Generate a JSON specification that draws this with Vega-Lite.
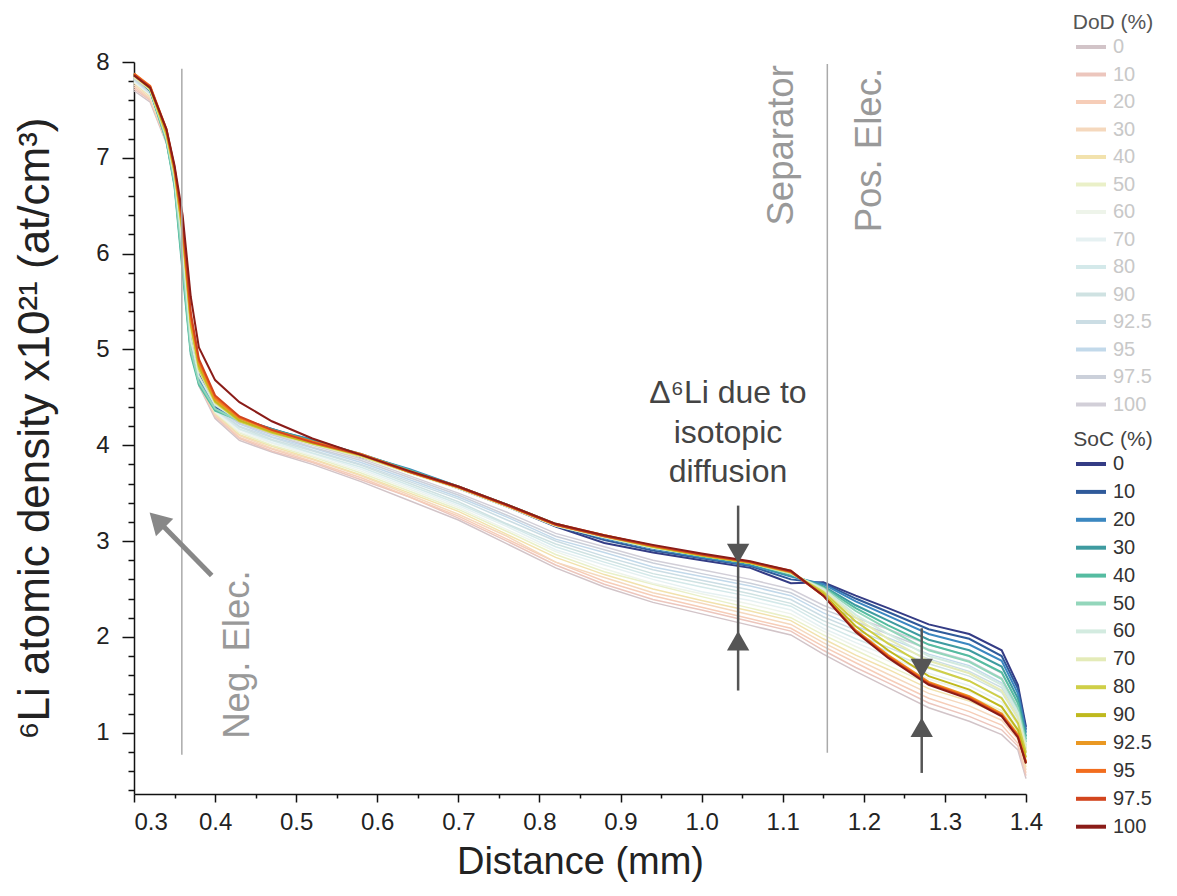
{
"$schema":"https://vega.github.io/schema/vega-lite/v6.json",
"width":892,"height":732,
"autosize":{"type":"none"},
"padding":{"left":134,"top":62,"right":151,"bottom":102},
"background":"white",
"config":{"view":{"stroke":null},"font":"Liberation Sans"},
"datasets":{
"soc":[
{"x":0.3,"y":7.86,"c":"0"},{"x":0.32,"y":7.70,"c":"0"},{"x":0.34,"y":7.22,"c":"0"},{"x":0.35,"y":6.80,"c":"0"},{"x":0.36,"y":6.10,"c":"0"},{"x":0.37,"y":5.15,"c":"0"},{"x":0.38,"y":4.75,"c":"0"},{"x":0.4,"y":4.42,"c":"0"},{"x":0.43,"y":4.28,"c":"0"},{"x":0.47,"y":4.17,"c":"0"},{"x":0.52,"y":4.04,"c":"0"},{"x":0.58,"y":3.88,"c":"0"},{"x":0.64,"y":3.73,"c":"0"},{"x":0.7,"y":3.55,"c":"0"},{"x":0.76,"y":3.36,"c":"0"},{"x":0.82,"y":3.15,"c":"0"},{"x":0.88,"y":2.98,"c":"0"},{"x":0.94,"y":2.88,"c":"0"},{"x":1.0,"y":2.80,"c":"0"},{"x":1.06,"y":2.72,"c":"0"},{"x":1.11,"y":2.56,"c":"0"},{"x":1.15,"y":2.57,"c":"0"},{"x":1.19,"y":2.43,"c":"0"},{"x":1.23,"y":2.30,"c":"0"},{"x":1.28,"y":2.13,"c":"0"},{"x":1.33,"y":2.03,"c":"0"},{"x":1.37,"y":1.86,"c":"0"},{"x":1.39,"y":1.50,"c":"0"},{"x":1.4,"y":1.06,"c":"0"},
{"x":0.3,"y":7.87,"c":"10"},{"x":0.32,"y":7.71,"c":"10"},{"x":0.34,"y":7.23,"c":"10"},{"x":0.35,"y":6.82,"c":"10"},{"x":0.36,"y":6.05,"c":"10"},{"x":0.37,"y":5.10,"c":"10"},{"x":0.38,"y":4.72,"c":"10"},{"x":0.4,"y":4.40,"c":"10"},{"x":0.43,"y":4.27,"c":"10"},{"x":0.47,"y":4.16,"c":"10"},{"x":0.52,"y":4.05,"c":"10"},{"x":0.58,"y":3.89,"c":"10"},{"x":0.64,"y":3.74,"c":"10"},{"x":0.7,"y":3.56,"c":"10"},{"x":0.76,"y":3.37,"c":"10"},{"x":0.82,"y":3.16,"c":"10"},{"x":0.88,"y":3.01,"c":"10"},{"x":0.94,"y":2.90,"c":"10"},{"x":1.0,"y":2.82,"c":"10"},{"x":1.06,"y":2.74,"c":"10"},{"x":1.11,"y":2.60,"c":"10"},{"x":1.15,"y":2.56,"c":"10"},{"x":1.19,"y":2.40,"c":"10"},{"x":1.23,"y":2.26,"c":"10"},{"x":1.28,"y":2.08,"c":"10"},{"x":1.33,"y":1.98,"c":"10"},{"x":1.37,"y":1.80,"c":"10"},{"x":1.39,"y":1.46,"c":"10"},{"x":1.4,"y":1.03,"c":"10"},
{"x":0.3,"y":7.88,"c":"20"},{"x":0.32,"y":7.72,"c":"20"},{"x":0.34,"y":7.20,"c":"20"},{"x":0.35,"y":6.78,"c":"20"},{"x":0.36,"y":5.95,"c":"20"},{"x":0.37,"y":5.02,"c":"20"},{"x":0.38,"y":4.68,"c":"20"},{"x":0.4,"y":4.38,"c":"20"},{"x":0.43,"y":4.26,"c":"20"},{"x":0.47,"y":4.16,"c":"20"},{"x":0.52,"y":4.06,"c":"20"},{"x":0.58,"y":3.90,"c":"20"},{"x":0.64,"y":3.75,"c":"20"},{"x":0.7,"y":3.57,"c":"20"},{"x":0.76,"y":3.38,"c":"20"},{"x":0.82,"y":3.17,"c":"20"},{"x":0.88,"y":3.03,"c":"20"},{"x":0.94,"y":2.92,"c":"20"},{"x":1.0,"y":2.83,"c":"20"},{"x":1.06,"y":2.75,"c":"20"},{"x":1.11,"y":2.63,"c":"20"},{"x":1.15,"y":2.55,"c":"20"},{"x":1.19,"y":2.37,"c":"20"},{"x":1.23,"y":2.22,"c":"20"},{"x":1.28,"y":2.03,"c":"20"},{"x":1.33,"y":1.92,"c":"20"},{"x":1.37,"y":1.75,"c":"20"},{"x":1.39,"y":1.41,"c":"20"},{"x":1.4,"y":1.00,"c":"20"},
{"x":0.3,"y":7.88,"c":"30"},{"x":0.32,"y":7.70,"c":"30"},{"x":0.34,"y":7.18,"c":"30"},{"x":0.35,"y":6.72,"c":"30"},{"x":0.36,"y":5.85,"c":"30"},{"x":0.37,"y":4.98,"c":"30"},{"x":0.38,"y":4.65,"c":"30"},{"x":0.4,"y":4.37,"c":"30"},{"x":0.43,"y":4.27,"c":"30"},{"x":0.47,"y":4.17,"c":"30"},{"x":0.52,"y":4.05,"c":"30"},{"x":0.58,"y":3.91,"c":"30"},{"x":0.64,"y":3.74,"c":"30"},{"x":0.7,"y":3.57,"c":"30"},{"x":0.76,"y":3.38,"c":"30"},{"x":0.82,"y":3.18,"c":"30"},{"x":0.88,"y":3.04,"c":"30"},{"x":0.94,"y":2.93,"c":"30"},{"x":1.0,"y":2.84,"c":"30"},{"x":1.06,"y":2.76,"c":"30"},{"x":1.11,"y":2.64,"c":"30"},{"x":1.15,"y":2.53,"c":"30"},{"x":1.19,"y":2.33,"c":"30"},{"x":1.23,"y":2.17,"c":"30"},{"x":1.28,"y":1.97,"c":"30"},{"x":1.33,"y":1.86,"c":"30"},{"x":1.37,"y":1.69,"c":"30"},{"x":1.39,"y":1.36,"c":"30"},{"x":1.4,"y":0.96,"c":"30"},
{"x":0.3,"y":7.87,"c":"40"},{"x":0.32,"y":7.70,"c":"40"},{"x":0.34,"y":7.17,"c":"40"},{"x":0.35,"y":6.70,"c":"40"},{"x":0.36,"y":5.80,"c":"40"},{"x":0.37,"y":4.95,"c":"40"},{"x":0.38,"y":4.63,"c":"40"},{"x":0.4,"y":4.36,"c":"40"},{"x":0.43,"y":4.26,"c":"40"},{"x":0.47,"y":4.16,"c":"40"},{"x":0.52,"y":4.04,"c":"40"},{"x":0.58,"y":3.90,"c":"40"},{"x":0.64,"y":3.74,"c":"40"},{"x":0.7,"y":3.56,"c":"40"},{"x":0.76,"y":3.38,"c":"40"},{"x":0.82,"y":3.18,"c":"40"},{"x":0.88,"y":3.05,"c":"40"},{"x":0.94,"y":2.94,"c":"40"},{"x":1.0,"y":2.84,"c":"40"},{"x":1.06,"y":2.77,"c":"40"},{"x":1.11,"y":2.65,"c":"40"},{"x":1.15,"y":2.52,"c":"40"},{"x":1.19,"y":2.30,"c":"40"},{"x":1.23,"y":2.12,"c":"40"},{"x":1.28,"y":1.92,"c":"40"},{"x":1.33,"y":1.80,"c":"40"},{"x":1.37,"y":1.63,"c":"40"},{"x":1.39,"y":1.31,"c":"40"},{"x":1.4,"y":0.93,"c":"40"},
{"x":0.3,"y":7.86,"c":"50"},{"x":0.32,"y":7.71,"c":"50"},{"x":0.34,"y":7.19,"c":"50"},{"x":0.35,"y":6.74,"c":"50"},{"x":0.36,"y":5.90,"c":"50"},{"x":0.37,"y":5.00,"c":"50"},{"x":0.38,"y":4.66,"c":"50"},{"x":0.4,"y":4.38,"c":"50"},{"x":0.43,"y":4.25,"c":"50"},{"x":0.47,"y":4.15,"c":"50"},{"x":0.52,"y":4.03,"c":"50"},{"x":0.58,"y":3.89,"c":"50"},{"x":0.64,"y":3.73,"c":"50"},{"x":0.7,"y":3.56,"c":"50"},{"x":0.76,"y":3.37,"c":"50"},{"x":0.82,"y":3.17,"c":"50"},{"x":0.88,"y":3.05,"c":"50"},{"x":0.94,"y":2.94,"c":"50"},{"x":1.0,"y":2.85,"c":"50"},{"x":1.06,"y":2.77,"c":"50"},{"x":1.11,"y":2.66,"c":"50"},{"x":1.15,"y":2.51,"c":"50"},{"x":1.19,"y":2.27,"c":"50"},{"x":1.23,"y":2.08,"c":"50"},{"x":1.28,"y":1.86,"c":"50"},{"x":1.33,"y":1.74,"c":"50"},{"x":1.37,"y":1.56,"c":"50"},{"x":1.39,"y":1.26,"c":"50"},{"x":1.4,"y":0.90,"c":"50"},
{"x":0.3,"y":7.85,"c":"60"},{"x":0.32,"y":7.72,"c":"60"},{"x":0.34,"y":7.22,"c":"60"},{"x":0.35,"y":6.80,"c":"60"},{"x":0.36,"y":6.05,"c":"60"},{"x":0.37,"y":5.10,"c":"60"},{"x":0.38,"y":4.72,"c":"60"},{"x":0.4,"y":4.42,"c":"60"},{"x":0.43,"y":4.26,"c":"60"},{"x":0.47,"y":4.14,"c":"60"},{"x":0.52,"y":4.02,"c":"60"},{"x":0.58,"y":3.89,"c":"60"},{"x":0.64,"y":3.72,"c":"60"},{"x":0.7,"y":3.55,"c":"60"},{"x":0.76,"y":3.36,"c":"60"},{"x":0.82,"y":3.16,"c":"60"},{"x":0.88,"y":3.04,"c":"60"},{"x":0.94,"y":2.93,"c":"60"},{"x":1.0,"y":2.85,"c":"60"},{"x":1.06,"y":2.77,"c":"60"},{"x":1.11,"y":2.66,"c":"60"},{"x":1.15,"y":2.50,"c":"60"},{"x":1.19,"y":2.23,"c":"60"},{"x":1.23,"y":2.03,"c":"60"},{"x":1.28,"y":1.80,"c":"60"},{"x":1.33,"y":1.68,"c":"60"},{"x":1.37,"y":1.50,"c":"60"},{"x":1.39,"y":1.21,"c":"60"},{"x":1.4,"y":0.86,"c":"60"},
{"x":0.3,"y":7.84,"c":"70"},{"x":0.32,"y":7.71,"c":"70"},{"x":0.34,"y":7.23,"c":"70"},{"x":0.35,"y":6.82,"c":"70"},{"x":0.36,"y":6.15,"c":"70"},{"x":0.37,"y":5.20,"c":"70"},{"x":0.38,"y":4.78,"c":"70"},{"x":0.4,"y":4.44,"c":"70"},{"x":0.43,"y":4.26,"c":"70"},{"x":0.47,"y":4.13,"c":"70"},{"x":0.52,"y":4.01,"c":"70"},{"x":0.58,"y":3.88,"c":"70"},{"x":0.64,"y":3.71,"c":"70"},{"x":0.7,"y":3.55,"c":"70"},{"x":0.76,"y":3.36,"c":"70"},{"x":0.82,"y":3.16,"c":"70"},{"x":0.88,"y":3.04,"c":"70"},{"x":0.94,"y":2.93,"c":"70"},{"x":1.0,"y":2.85,"c":"70"},{"x":1.06,"y":2.77,"c":"70"},{"x":1.11,"y":2.67,"c":"70"},{"x":1.15,"y":2.48,"c":"70"},{"x":1.19,"y":2.20,"c":"70"},{"x":1.23,"y":1.98,"c":"70"},{"x":1.28,"y":1.75,"c":"70"},{"x":1.33,"y":1.62,"c":"70"},{"x":1.37,"y":1.44,"c":"70"},{"x":1.39,"y":1.16,"c":"70"},{"x":1.4,"y":0.83,"c":"70"},
{"x":0.3,"y":7.86,"c":"80"},{"x":0.32,"y":7.72,"c":"80"},{"x":0.34,"y":7.24,"c":"80"},{"x":0.35,"y":6.84,"c":"80"},{"x":0.36,"y":6.20,"c":"80"},{"x":0.37,"y":5.25,"c":"80"},{"x":0.38,"y":4.80,"c":"80"},{"x":0.4,"y":4.45,"c":"80"},{"x":0.43,"y":4.25,"c":"80"},{"x":0.47,"y":4.13,"c":"80"},{"x":0.52,"y":4.02,"c":"80"},{"x":0.58,"y":3.89,"c":"80"},{"x":0.64,"y":3.72,"c":"80"},{"x":0.7,"y":3.56,"c":"80"},{"x":0.76,"y":3.37,"c":"80"},{"x":0.82,"y":3.17,"c":"80"},{"x":0.88,"y":3.05,"c":"80"},{"x":0.94,"y":2.94,"c":"80"},{"x":1.0,"y":2.85,"c":"80"},{"x":1.06,"y":2.77,"c":"80"},{"x":1.11,"y":2.67,"c":"80"},{"x":1.15,"y":2.47,"c":"80"},{"x":1.19,"y":2.16,"c":"80"},{"x":1.23,"y":1.93,"c":"80"},{"x":1.28,"y":1.68,"c":"80"},{"x":1.33,"y":1.54,"c":"80"},{"x":1.37,"y":1.36,"c":"80"},{"x":1.39,"y":1.10,"c":"80"},{"x":1.4,"y":0.79,"c":"80"},
{"x":0.3,"y":7.87,"c":"90"},{"x":0.32,"y":7.73,"c":"90"},{"x":0.34,"y":7.26,"c":"90"},{"x":0.35,"y":6.86,"c":"90"},{"x":0.36,"y":6.22,"c":"90"},{"x":0.37,"y":5.28,"c":"90"},{"x":0.38,"y":4.83,"c":"90"},{"x":0.4,"y":4.46,"c":"90"},{"x":0.43,"y":4.26,"c":"90"},{"x":0.47,"y":4.14,"c":"90"},{"x":0.52,"y":4.02,"c":"90"},{"x":0.58,"y":3.90,"c":"90"},{"x":0.64,"y":3.72,"c":"90"},{"x":0.7,"y":3.56,"c":"90"},{"x":0.76,"y":3.37,"c":"90"},{"x":0.82,"y":3.17,"c":"90"},{"x":0.88,"y":3.05,"c":"90"},{"x":0.94,"y":2.94,"c":"90"},{"x":1.0,"y":2.85,"c":"90"},{"x":1.06,"y":2.77,"c":"90"},{"x":1.11,"y":2.68,"c":"90"},{"x":1.15,"y":2.45,"c":"90"},{"x":1.19,"y":2.11,"c":"90"},{"x":1.23,"y":1.86,"c":"90"},{"x":1.28,"y":1.59,"c":"90"},{"x":1.33,"y":1.45,"c":"90"},{"x":1.37,"y":1.27,"c":"90"},{"x":1.39,"y":1.03,"c":"90"},{"x":1.4,"y":0.74,"c":"90"},
{"x":0.3,"y":7.88,"c":"92.5"},{"x":0.32,"y":7.74,"c":"92.5"},{"x":0.34,"y":7.28,"c":"92.5"},{"x":0.35,"y":6.88,"c":"92.5"},{"x":0.36,"y":6.28,"c":"92.5"},{"x":0.37,"y":5.32,"c":"92.5"},{"x":0.38,"y":4.86,"c":"92.5"},{"x":0.4,"y":4.48,"c":"92.5"},{"x":0.43,"y":4.28,"c":"92.5"},{"x":0.47,"y":4.15,"c":"92.5"},{"x":0.52,"y":4.03,"c":"92.5"},{"x":0.58,"y":3.90,"c":"92.5"},{"x":0.64,"y":3.72,"c":"92.5"},{"x":0.7,"y":3.56,"c":"92.5"},{"x":0.76,"y":3.37,"c":"92.5"},{"x":0.82,"y":3.17,"c":"92.5"},{"x":0.88,"y":3.06,"c":"92.5"},{"x":0.94,"y":2.95,"c":"92.5"},{"x":1.0,"y":2.86,"c":"92.5"},{"x":1.06,"y":2.78,"c":"92.5"},{"x":1.11,"y":2.68,"c":"92.5"},{"x":1.15,"y":2.44,"c":"92.5"},{"x":1.19,"y":2.07,"c":"92.5"},{"x":1.23,"y":1.81,"c":"92.5"},{"x":1.28,"y":1.53,"c":"92.5"},{"x":1.33,"y":1.38,"c":"92.5"},{"x":1.37,"y":1.20,"c":"92.5"},{"x":1.39,"y":0.98,"c":"92.5"},{"x":1.4,"y":0.70,"c":"92.5"},
{"x":0.3,"y":7.88,"c":"95"},{"x":0.32,"y":7.75,"c":"95"},{"x":0.34,"y":7.30,"c":"95"},{"x":0.35,"y":6.90,"c":"95"},{"x":0.36,"y":6.30,"c":"95"},{"x":0.37,"y":5.35,"c":"95"},{"x":0.38,"y":4.88,"c":"95"},{"x":0.4,"y":4.50,"c":"95"},{"x":0.43,"y":4.29,"c":"95"},{"x":0.47,"y":4.16,"c":"95"},{"x":0.52,"y":4.04,"c":"95"},{"x":0.58,"y":3.91,"c":"95"},{"x":0.64,"y":3.73,"c":"95"},{"x":0.7,"y":3.57,"c":"95"},{"x":0.76,"y":3.38,"c":"95"},{"x":0.82,"y":3.18,"c":"95"},{"x":0.88,"y":3.06,"c":"95"},{"x":0.94,"y":2.95,"c":"95"},{"x":1.0,"y":2.86,"c":"95"},{"x":1.06,"y":2.78,"c":"95"},{"x":1.11,"y":2.69,"c":"95"},{"x":1.15,"y":2.43,"c":"95"},{"x":1.19,"y":2.06,"c":"95"},{"x":1.23,"y":1.80,"c":"95"},{"x":1.28,"y":1.52,"c":"95"},{"x":1.33,"y":1.37,"c":"95"},{"x":1.37,"y":1.19,"c":"95"},{"x":1.39,"y":0.97,"c":"95"},{"x":1.4,"y":0.69,"c":"95"},
{"x":0.3,"y":7.87,"c":"97.5"},{"x":0.32,"y":7.74,"c":"97.5"},{"x":0.34,"y":7.29,"c":"97.5"},{"x":0.35,"y":6.89,"c":"97.5"},{"x":0.36,"y":6.32,"c":"97.5"},{"x":0.37,"y":5.38,"c":"97.5"},{"x":0.38,"y":4.90,"c":"97.5"},{"x":0.4,"y":4.52,"c":"97.5"},{"x":0.43,"y":4.30,"c":"97.5"},{"x":0.47,"y":4.16,"c":"97.5"},{"x":0.52,"y":4.03,"c":"97.5"},{"x":0.58,"y":3.90,"c":"97.5"},{"x":0.64,"y":3.72,"c":"97.5"},{"x":0.7,"y":3.56,"c":"97.5"},{"x":0.76,"y":3.37,"c":"97.5"},{"x":0.82,"y":3.17,"c":"97.5"},{"x":0.88,"y":3.05,"c":"97.5"},{"x":0.94,"y":2.95,"c":"97.5"},{"x":1.0,"y":2.86,"c":"97.5"},{"x":1.06,"y":2.78,"c":"97.5"},{"x":1.11,"y":2.68,"c":"97.5"},{"x":1.15,"y":2.43,"c":"97.5"},{"x":1.19,"y":2.06,"c":"97.5"},{"x":1.23,"y":1.79,"c":"97.5"},{"x":1.28,"y":1.51,"c":"97.5"},{"x":1.33,"y":1.36,"c":"97.5"},{"x":1.37,"y":1.18,"c":"97.5"},{"x":1.39,"y":0.96,"c":"97.5"},{"x":1.4,"y":0.68,"c":"97.5"},
{"x":0.3,"y":7.86,"c":"100"},{"x":0.32,"y":7.73,"c":"100"},{"x":0.34,"y":7.30,"c":"100"},{"x":0.35,"y":6.92,"c":"100"},{"x":0.36,"y":6.40,"c":"100"},{"x":0.37,"y":5.55,"c":"100"},{"x":0.38,"y":5.02,"c":"100"},{"x":0.4,"y":4.68,"c":"100"},{"x":0.43,"y":4.45,"c":"100"},{"x":0.47,"y":4.25,"c":"100"},{"x":0.52,"y":4.07,"c":"100"},{"x":0.58,"y":3.90,"c":"100"},{"x":0.64,"y":3.73,"c":"100"},{"x":0.7,"y":3.57,"c":"100"},{"x":0.76,"y":3.38,"c":"100"},{"x":0.82,"y":3.18,"c":"100"},{"x":0.88,"y":3.06,"c":"100"},{"x":0.94,"y":2.96,"c":"100"},{"x":1.0,"y":2.87,"c":"100"},{"x":1.06,"y":2.79,"c":"100"},{"x":1.11,"y":2.69,"c":"100"},{"x":1.15,"y":2.43,"c":"100"},{"x":1.19,"y":2.05,"c":"100"},{"x":1.23,"y":1.78,"c":"100"},{"x":1.28,"y":1.50,"c":"100"},{"x":1.33,"y":1.35,"c":"100"},{"x":1.37,"y":1.17,"c":"100"},{"x":1.39,"y":0.95,"c":"100"},{"x":1.4,"y":0.68,"c":"100"}
],
"dod":[
{"x":0.3,"y":7.70,"c":"0"},{"x":0.32,"y":7.58,"c":"0"},{"x":0.34,"y":7.15,"c":"0"},{"x":0.35,"y":6.75,"c":"0"},{"x":0.36,"y":6.00,"c":"0"},{"x":0.37,"y":5.05,"c":"0"},{"x":0.38,"y":4.62,"c":"0"},{"x":0.4,"y":4.28,"c":"0"},{"x":0.43,"y":4.05,"c":"0"},{"x":0.47,"y":3.93,"c":"0"},{"x":0.52,"y":3.80,"c":"0"},{"x":0.58,"y":3.62,"c":"0"},{"x":0.64,"y":3.42,"c":"0"},{"x":0.7,"y":3.22,"c":"0"},{"x":0.76,"y":2.97,"c":"0"},{"x":0.82,"y":2.72,"c":"0"},{"x":0.88,"y":2.52,"c":"0"},{"x":0.94,"y":2.36,"c":"0"},{"x":1.0,"y":2.24,"c":"0"},{"x":1.06,"y":2.12,"c":"0"},{"x":1.11,"y":2.02,"c":"0"},{"x":1.15,"y":1.82,"c":"0"},{"x":1.19,"y":1.64,"c":"0"},{"x":1.23,"y":1.47,"c":"0"},{"x":1.28,"y":1.26,"c":"0"},{"x":1.33,"y":1.12,"c":"0"},{"x":1.37,"y":0.98,"c":"0"},{"x":1.39,"y":0.82,"c":"0"},{"x":1.4,"y":0.52,"c":"0"},
{"x":0.3,"y":7.72,"c":"10"},{"x":0.32,"y":7.60,"c":"10"},{"x":0.34,"y":7.17,"c":"10"},{"x":0.35,"y":6.77,"c":"10"},{"x":0.36,"y":6.05,"c":"10"},{"x":0.37,"y":5.08,"c":"10"},{"x":0.38,"y":4.64,"c":"10"},{"x":0.4,"y":4.30,"c":"10"},{"x":0.43,"y":4.07,"c":"10"},{"x":0.47,"y":3.94,"c":"10"},{"x":0.52,"y":3.82,"c":"10"},{"x":0.58,"y":3.64,"c":"10"},{"x":0.64,"y":3.46,"c":"10"},{"x":0.7,"y":3.24,"c":"10"},{"x":0.76,"y":3.00,"c":"10"},{"x":0.82,"y":2.75,"c":"10"},{"x":0.88,"y":2.55,"c":"10"},{"x":0.94,"y":2.39,"c":"10"},{"x":1.0,"y":2.28,"c":"10"},{"x":1.06,"y":2.16,"c":"10"},{"x":1.11,"y":2.06,"c":"10"},{"x":1.15,"y":1.86,"c":"10"},{"x":1.19,"y":1.68,"c":"10"},{"x":1.23,"y":1.52,"c":"10"},{"x":1.28,"y":1.31,"c":"10"},{"x":1.33,"y":1.17,"c":"10"},{"x":1.37,"y":1.03,"c":"10"},{"x":1.39,"y":0.86,"c":"10"},{"x":1.4,"y":0.55,"c":"10"},
{"x":0.3,"y":7.74,"c":"20"},{"x":0.32,"y":7.61,"c":"20"},{"x":0.34,"y":7.16,"c":"20"},{"x":0.35,"y":6.76,"c":"20"},{"x":0.36,"y":6.02,"c":"20"},{"x":0.37,"y":5.06,"c":"20"},{"x":0.38,"y":4.63,"c":"20"},{"x":0.4,"y":4.31,"c":"20"},{"x":0.43,"y":4.08,"c":"20"},{"x":0.47,"y":3.96,"c":"20"},{"x":0.52,"y":3.83,"c":"20"},{"x":0.58,"y":3.66,"c":"20"},{"x":0.64,"y":3.46,"c":"20"},{"x":0.7,"y":3.26,"c":"20"},{"x":0.76,"y":3.02,"c":"20"},{"x":0.82,"y":2.78,"c":"20"},{"x":0.88,"y":2.58,"c":"20"},{"x":0.94,"y":2.43,"c":"20"},{"x":1.0,"y":2.31,"c":"20"},{"x":1.06,"y":2.19,"c":"20"},{"x":1.11,"y":2.09,"c":"20"},{"x":1.15,"y":1.90,"c":"20"},{"x":1.19,"y":1.73,"c":"20"},{"x":1.23,"y":1.56,"c":"20"},{"x":1.28,"y":1.36,"c":"20"},{"x":1.33,"y":1.22,"c":"20"},{"x":1.37,"y":1.08,"c":"20"},{"x":1.39,"y":0.89,"c":"20"},{"x":1.4,"y":0.58,"c":"20"},
{"x":0.3,"y":7.76,"c":"30"},{"x":0.32,"y":7.62,"c":"30"},{"x":0.34,"y":7.18,"c":"30"},{"x":0.35,"y":6.78,"c":"30"},{"x":0.36,"y":6.06,"c":"30"},{"x":0.37,"y":5.10,"c":"30"},{"x":0.38,"y":4.66,"c":"30"},{"x":0.4,"y":4.32,"c":"30"},{"x":0.43,"y":4.10,"c":"30"},{"x":0.47,"y":3.97,"c":"30"},{"x":0.52,"y":3.85,"c":"30"},{"x":0.58,"y":3.68,"c":"30"},{"x":0.64,"y":3.48,"c":"30"},{"x":0.7,"y":3.28,"c":"30"},{"x":0.76,"y":3.05,"c":"30"},{"x":0.82,"y":2.78,"c":"30"},{"x":0.88,"y":2.62,"c":"30"},{"x":0.94,"y":2.46,"c":"30"},{"x":1.0,"y":2.35,"c":"30"},{"x":1.06,"y":2.23,"c":"30"},{"x":1.11,"y":2.13,"c":"30"},{"x":1.15,"y":1.94,"c":"30"},{"x":1.19,"y":1.77,"c":"30"},{"x":1.23,"y":1.61,"c":"30"},{"x":1.28,"y":1.41,"c":"30"},{"x":1.33,"y":1.28,"c":"30"},{"x":1.37,"y":1.13,"c":"30"},{"x":1.39,"y":0.93,"c":"30"},{"x":1.4,"y":0.61,"c":"30"},
{"x":0.3,"y":7.78,"c":"40"},{"x":0.32,"y":7.64,"c":"40"},{"x":0.34,"y":7.19,"c":"40"},{"x":0.35,"y":6.79,"c":"40"},{"x":0.36,"y":6.08,"c":"40"},{"x":0.37,"y":5.12,"c":"40"},{"x":0.38,"y":4.67,"c":"40"},{"x":0.4,"y":4.33,"c":"40"},{"x":0.43,"y":4.11,"c":"40"},{"x":0.47,"y":3.99,"c":"40"},{"x":0.52,"y":3.86,"c":"40"},{"x":0.58,"y":3.69,"c":"40"},{"x":0.64,"y":3.50,"c":"40"},{"x":0.7,"y":3.31,"c":"40"},{"x":0.76,"y":3.07,"c":"40"},{"x":0.82,"y":2.83,"c":"40"},{"x":0.88,"y":2.65,"c":"40"},{"x":0.94,"y":2.50,"c":"40"},{"x":1.0,"y":2.38,"c":"40"},{"x":1.06,"y":2.27,"c":"40"},{"x":1.11,"y":2.17,"c":"40"},{"x":1.15,"y":1.98,"c":"40"},{"x":1.19,"y":1.81,"c":"40"},{"x":1.23,"y":1.66,"c":"40"},{"x":1.28,"y":1.46,"c":"40"},{"x":1.33,"y":1.33,"c":"40"},{"x":1.37,"y":1.18,"c":"40"},{"x":1.39,"y":0.97,"c":"40"},{"x":1.4,"y":0.64,"c":"40"},
{"x":0.3,"y":7.80,"c":"50"},{"x":0.32,"y":7.65,"c":"50"},{"x":0.34,"y":7.20,"c":"50"},{"x":0.35,"y":6.80,"c":"50"},{"x":0.36,"y":6.10,"c":"50"},{"x":0.37,"y":5.14,"c":"50"},{"x":0.38,"y":4.68,"c":"50"},{"x":0.4,"y":4.34,"c":"50"},{"x":0.43,"y":4.13,"c":"50"},{"x":0.47,"y":4.00,"c":"50"},{"x":0.52,"y":3.88,"c":"50"},{"x":0.58,"y":3.71,"c":"50"},{"x":0.64,"y":3.52,"c":"50"},{"x":0.7,"y":3.33,"c":"50"},{"x":0.76,"y":3.10,"c":"50"},{"x":0.82,"y":2.86,"c":"50"},{"x":0.88,"y":2.68,"c":"50"},{"x":0.94,"y":2.55,"c":"50"},{"x":1.0,"y":2.42,"c":"50"},{"x":1.06,"y":2.30,"c":"50"},{"x":1.11,"y":2.20,"c":"50"},{"x":1.15,"y":2.02,"c":"50"},{"x":1.19,"y":1.86,"c":"50"},{"x":1.23,"y":1.70,"c":"50"},{"x":1.28,"y":1.51,"c":"50"},{"x":1.33,"y":1.38,"c":"50"},{"x":1.37,"y":1.23,"c":"50"},{"x":1.39,"y":1.00,"c":"50"},{"x":1.4,"y":0.67,"c":"50"},
{"x":0.3,"y":7.79,"c":"60"},{"x":0.32,"y":7.66,"c":"60"},{"x":0.34,"y":7.21,"c":"60"},{"x":0.35,"y":6.81,"c":"60"},{"x":0.36,"y":6.11,"c":"60"},{"x":0.37,"y":5.15,"c":"60"},{"x":0.38,"y":4.69,"c":"60"},{"x":0.4,"y":4.35,"c":"60"},{"x":0.43,"y":4.14,"c":"60"},{"x":0.47,"y":4.02,"c":"60"},{"x":0.52,"y":3.89,"c":"60"},{"x":0.58,"y":3.73,"c":"60"},{"x":0.64,"y":3.54,"c":"60"},{"x":0.7,"y":3.35,"c":"60"},{"x":0.76,"y":3.12,"c":"60"},{"x":0.82,"y":2.89,"c":"60"},{"x":0.88,"y":2.71,"c":"60"},{"x":0.94,"y":2.56,"c":"60"},{"x":1.0,"y":2.45,"c":"60"},{"x":1.06,"y":2.34,"c":"60"},{"x":1.11,"y":2.24,"c":"60"},{"x":1.15,"y":2.06,"c":"60"},{"x":1.19,"y":1.90,"c":"60"},{"x":1.23,"y":1.75,"c":"60"},{"x":1.28,"y":1.56,"c":"60"},{"x":1.33,"y":1.43,"c":"60"},{"x":1.37,"y":1.28,"c":"60"},{"x":1.39,"y":1.04,"c":"60"},{"x":1.4,"y":0.70,"c":"60"},
{"x":0.3,"y":7.80,"c":"70"},{"x":0.32,"y":7.66,"c":"70"},{"x":0.34,"y":7.20,"c":"70"},{"x":0.35,"y":6.80,"c":"70"},{"x":0.36,"y":6.09,"c":"70"},{"x":0.37,"y":5.13,"c":"70"},{"x":0.38,"y":4.69,"c":"70"},{"x":0.4,"y":4.36,"c":"70"},{"x":0.43,"y":4.16,"c":"70"},{"x":0.47,"y":4.03,"c":"70"},{"x":0.52,"y":3.91,"c":"70"},{"x":0.58,"y":3.75,"c":"70"},{"x":0.64,"y":3.56,"c":"70"},{"x":0.7,"y":3.37,"c":"70"},{"x":0.76,"y":3.15,"c":"70"},{"x":0.82,"y":2.91,"c":"70"},{"x":0.88,"y":2.75,"c":"70"},{"x":0.94,"y":2.60,"c":"70"},{"x":1.0,"y":2.47,"c":"70"},{"x":1.06,"y":2.38,"c":"70"},{"x":1.11,"y":2.28,"c":"70"},{"x":1.15,"y":2.09,"c":"70"},{"x":1.19,"y":1.94,"c":"70"},{"x":1.23,"y":1.80,"c":"70"},{"x":1.28,"y":1.62,"c":"70"},{"x":1.33,"y":1.49,"c":"70"},{"x":1.37,"y":1.32,"c":"70"},{"x":1.39,"y":1.08,"c":"70"},{"x":1.4,"y":0.72,"c":"70"},
{"x":0.3,"y":7.81,"c":"80"},{"x":0.32,"y":7.67,"c":"80"},{"x":0.34,"y":7.21,"c":"80"},{"x":0.35,"y":6.81,"c":"80"},{"x":0.36,"y":6.12,"c":"80"},{"x":0.37,"y":5.16,"c":"80"},{"x":0.38,"y":4.70,"c":"80"},{"x":0.4,"y":4.37,"c":"80"},{"x":0.43,"y":4.17,"c":"80"},{"x":0.47,"y":4.05,"c":"80"},{"x":0.52,"y":3.92,"c":"80"},{"x":0.58,"y":3.77,"c":"80"},{"x":0.64,"y":3.58,"c":"80"},{"x":0.7,"y":3.39,"c":"80"},{"x":0.76,"y":3.17,"c":"80"},{"x":0.82,"y":2.94,"c":"80"},{"x":0.88,"y":2.78,"c":"80"},{"x":0.94,"y":2.63,"c":"80"},{"x":1.0,"y":2.52,"c":"80"},{"x":1.06,"y":2.42,"c":"80"},{"x":1.11,"y":2.32,"c":"80"},{"x":1.15,"y":2.13,"c":"80"},{"x":1.19,"y":1.98,"c":"80"},{"x":1.23,"y":1.85,"c":"80"},{"x":1.28,"y":1.67,"c":"80"},{"x":1.33,"y":1.54,"c":"80"},{"x":1.37,"y":1.37,"c":"80"},{"x":1.39,"y":1.12,"c":"80"},{"x":1.4,"y":0.75,"c":"80"},
{"x":0.3,"y":7.82,"c":"90"},{"x":0.32,"y":7.68,"c":"90"},{"x":0.34,"y":7.22,"c":"90"},{"x":0.35,"y":6.82,"c":"90"},{"x":0.36,"y":6.13,"c":"90"},{"x":0.37,"y":5.17,"c":"90"},{"x":0.38,"y":4.71,"c":"90"},{"x":0.4,"y":4.38,"c":"90"},{"x":0.43,"y":4.19,"c":"90"},{"x":0.47,"y":4.06,"c":"90"},{"x":0.52,"y":3.94,"c":"90"},{"x":0.58,"y":3.79,"c":"90"},{"x":0.64,"y":3.60,"c":"90"},{"x":0.7,"y":3.41,"c":"90"},{"x":0.76,"y":3.18,"c":"90"},{"x":0.82,"y":2.97,"c":"90"},{"x":0.88,"y":2.81,"c":"90"},{"x":0.94,"y":2.66,"c":"90"},{"x":1.0,"y":2.56,"c":"90"},{"x":1.06,"y":2.45,"c":"90"},{"x":1.11,"y":2.35,"c":"90"},{"x":1.15,"y":2.17,"c":"90"},{"x":1.19,"y":2.03,"c":"90"},{"x":1.23,"y":1.89,"c":"90"},{"x":1.28,"y":1.72,"c":"90"},{"x":1.33,"y":1.59,"c":"90"},{"x":1.37,"y":1.42,"c":"90"},{"x":1.39,"y":1.15,"c":"90"},{"x":1.4,"y":0.78,"c":"90"},
{"x":0.3,"y":7.82,"c":"92.5"},{"x":0.32,"y":7.68,"c":"92.5"},{"x":0.34,"y":7.21,"c":"92.5"},{"x":0.35,"y":6.81,"c":"92.5"},{"x":0.36,"y":6.12,"c":"92.5"},{"x":0.37,"y":5.16,"c":"92.5"},{"x":0.38,"y":4.71,"c":"92.5"},{"x":0.4,"y":4.38,"c":"92.5"},{"x":0.43,"y":4.20,"c":"92.5"},{"x":0.47,"y":4.08,"c":"92.5"},{"x":0.52,"y":3.95,"c":"92.5"},{"x":0.58,"y":3.80,"c":"92.5"},{"x":0.64,"y":3.62,"c":"92.5"},{"x":0.7,"y":3.44,"c":"92.5"},{"x":0.76,"y":3.22,"c":"92.5"},{"x":0.82,"y":3.00,"c":"92.5"},{"x":0.88,"y":2.84,"c":"92.5"},{"x":0.94,"y":2.70,"c":"92.5"},{"x":1.0,"y":2.59,"c":"92.5"},{"x":1.06,"y":2.49,"c":"92.5"},{"x":1.11,"y":2.39,"c":"92.5"},{"x":1.15,"y":2.21,"c":"92.5"},{"x":1.19,"y":2.07,"c":"92.5"},{"x":1.23,"y":1.94,"c":"92.5"},{"x":1.28,"y":1.77,"c":"92.5"},{"x":1.33,"y":1.64,"c":"92.5"},{"x":1.37,"y":1.47,"c":"92.5"},{"x":1.39,"y":1.19,"c":"92.5"},{"x":1.4,"y":0.81,"c":"92.5"},
{"x":0.3,"y":7.83,"c":"95"},{"x":0.32,"y":7.69,"c":"95"},{"x":0.34,"y":7.22,"c":"95"},{"x":0.35,"y":6.82,"c":"95"},{"x":0.36,"y":6.14,"c":"95"},{"x":0.37,"y":5.18,"c":"95"},{"x":0.38,"y":4.72,"c":"95"},{"x":0.4,"y":4.39,"c":"95"},{"x":0.43,"y":4.22,"c":"95"},{"x":0.47,"y":4.09,"c":"95"},{"x":0.52,"y":3.97,"c":"95"},{"x":0.58,"y":3.82,"c":"95"},{"x":0.64,"y":3.64,"c":"95"},{"x":0.7,"y":3.46,"c":"95"},{"x":0.76,"y":3.25,"c":"95"},{"x":0.82,"y":3.02,"c":"95"},{"x":0.88,"y":2.88,"c":"95"},{"x":0.94,"y":2.73,"c":"95"},{"x":1.0,"y":2.63,"c":"95"},{"x":1.06,"y":2.53,"c":"95"},{"x":1.11,"y":2.43,"c":"95"},{"x":1.15,"y":2.25,"c":"95"},{"x":1.19,"y":2.11,"c":"95"},{"x":1.23,"y":1.99,"c":"95"},{"x":1.28,"y":1.82,"c":"95"},{"x":1.33,"y":1.70,"c":"95"},{"x":1.37,"y":1.52,"c":"95"},{"x":1.39,"y":1.23,"c":"95"},{"x":1.4,"y":0.84,"c":"95"},
{"x":0.3,"y":7.83,"c":"97.5"},{"x":0.32,"y":7.69,"c":"97.5"},{"x":0.34,"y":7.23,"c":"97.5"},{"x":0.35,"y":6.83,"c":"97.5"},{"x":0.36,"y":6.15,"c":"97.5"},{"x":0.37,"y":5.19,"c":"97.5"},{"x":0.38,"y":4.73,"c":"97.5"},{"x":0.4,"y":4.40,"c":"97.5"},{"x":0.43,"y":4.23,"c":"97.5"},{"x":0.47,"y":4.11,"c":"97.5"},{"x":0.52,"y":3.98,"c":"97.5"},{"x":0.58,"y":3.84,"c":"97.5"},{"x":0.64,"y":3.66,"c":"97.5"},{"x":0.7,"y":3.48,"c":"97.5"},{"x":0.76,"y":3.27,"c":"97.5"},{"x":0.82,"y":3.05,"c":"97.5"},{"x":0.88,"y":2.91,"c":"97.5"},{"x":0.94,"y":2.77,"c":"97.5"},{"x":1.0,"y":2.66,"c":"97.5"},{"x":1.06,"y":2.56,"c":"97.5"},{"x":1.11,"y":2.46,"c":"97.5"},{"x":1.15,"y":2.29,"c":"97.5"},{"x":1.19,"y":2.16,"c":"97.5"},{"x":1.23,"y":2.03,"c":"97.5"},{"x":1.28,"y":1.87,"c":"97.5"},{"x":1.33,"y":1.75,"c":"97.5"},{"x":1.37,"y":1.57,"c":"97.5"},{"x":1.39,"y":1.26,"c":"97.5"},{"x":1.4,"y":0.87,"c":"97.5"},
{"x":0.3,"y":7.84,"c":"100"},{"x":0.32,"y":7.70,"c":"100"},{"x":0.34,"y":7.23,"c":"100"},{"x":0.35,"y":6.83,"c":"100"},{"x":0.36,"y":6.15,"c":"100"},{"x":0.37,"y":5.20,"c":"100"},{"x":0.38,"y":4.74,"c":"100"},{"x":0.4,"y":4.40,"c":"100"},{"x":0.43,"y":4.25,"c":"100"},{"x":0.47,"y":4.12,"c":"100"},{"x":0.52,"y":4.00,"c":"100"},{"x":0.58,"y":3.86,"c":"100"},{"x":0.64,"y":3.68,"c":"100"},{"x":0.7,"y":3.50,"c":"100"},{"x":0.76,"y":3.30,"c":"100"},{"x":0.82,"y":3.08,"c":"100"},{"x":0.88,"y":2.94,"c":"100"},{"x":0.94,"y":2.80,"c":"100"},{"x":1.0,"y":2.70,"c":"100"},{"x":1.06,"y":2.60,"c":"100"},{"x":1.11,"y":2.50,"c":"100"},{"x":1.15,"y":2.33,"c":"100"},{"x":1.19,"y":2.20,"c":"100"},{"x":1.23,"y":2.08,"c":"100"},{"x":1.28,"y":1.92,"c":"100"},{"x":1.33,"y":1.80,"c":"100"},{"x":1.37,"y":1.62,"c":"100"},{"x":1.39,"y":1.30,"c":"100"},{"x":1.4,"y":0.90,"c":"100"}
]
},
"resolve":{"scale":{"color":"independent"},"axis":{"x":"independent","y":"independent"}},
"layer":[
{"data":{"name":"dod"},
 "mark":{"type":"line","strokeWidth":1.5},
 "encoding":{
  "x":{"field":"x","type":"quantitative","scale":{"domain":[0.3,1.4],"nice":false,"zero":false},
   "axis":{"values":[0.3,0.4,0.5,0.6,0.7,0.8,0.9,1.0,1.1,1.2,1.3,1.4],"format":".1f","title":"Distance (mm)","grid":false,"tickSize":8,"tickWidth":1.5,"tickColor":"#111","domainColor":"#111","domainWidth":1.5,"labelFontSize":24,"labelColor":"#222","labelPadding":8,"labelFlush":false,"labelOverlap":false,"labelAlign":{"condition":{"test":"datum.value <= 0.3","value":"left"},"value":"center"},"titleFontSize":38,"titleFontWeight":"normal","titleColor":"#222","titlePadding":9}},
  "y":{"field":"y","type":"quantitative","scale":{"domain":[0.36,8],"nice":false,"zero":false},
   "axis":{"values":[1,2,3,4,5,6,7,8],"format":"d","title":"⁶Li atomic density x10²¹ (at/cm³)","grid":false,"tickSize":12,"tickWidth":1.5,"tickColor":"#111","domainColor":"#111","domainWidth":1.5,"labelFontSize":24,"labelColor":"#222","labelPadding":13,"labelFlush":false,"labelOverlap":false,"titleFontSize":44,"titleFontWeight":"normal","titleColor":"#222","titlePadding":38}},
  "color":{"field":"c","type":"nominal",
   "scale":{"domain":["0","10","20","30","40","50","60","70","80","90","92.5","95","97.5","100"],
    "range":["#d2c4c8","#ecc6bd","#f6cdb8","#f5d8bd","#f2e2ad","#eaf0c8","#eef4ea","#e6f1f2","#d4e9ea","#cfe2e2","#cbdde4","#c2d9ea","#cbd0da","#d2cfd8"]},
   "legend":{"title":"DoD (%)","orient":"none","legendX":939,"legendY":-50,"symbolType":"stroke","symbolSize":900,"symbolStrokeWidth":4,"labelFontSize":20,"labelColor":"#c8c8c8","titleFontSize":21,"titleFontWeight":"normal","titleColor":"#555","titleAnchor":"middle","rowPadding":0.5,"labelOffset":5,"titlePadding":-3}}
 }},
{"data":{"name":"soc"},
 "mark":{"type":"line","strokeWidth":2},
 "encoding":{
  "x":{"field":"x","type":"quantitative","axis":null},
  "y":{"field":"y","type":"quantitative","axis":null},
  "color":{"field":"c","type":"nominal",
   "scale":{"domain":["0","10","20","30","40","50","60","70","80","90","92.5","95","97.5","100"],
    "range":["#343c85","#2f5a9a","#3b87c0","#3e9ba0","#55bca1","#93d6bb","#d3ebe0","#e4ebb8","#cfcf48","#bfb91e","#ea9822","#f26d1e","#d2451e","#8a1c18"]},
   "legend":{"title":"SoC (%)","orient":"none","legendX":939,"legendY":367,"symbolType":"stroke","symbolSize":900,"symbolStrokeWidth":4,"labelFontSize":20,"labelColor":"#333","titleFontSize":21,"titleFontWeight":"normal","titleColor":"#444","titleAnchor":"middle","rowPadding":0.9,"labelOffset":5,"titlePadding":-3}}
 }},
{"data":{"values":[{"x":0.359,"y":0.77,"y2":7.93},{"x":1.155,"y":0.79,"y2":7.98}]},
 "mark":{"type":"rule","color":"#aaaaaa","strokeWidth":1.5},
 "encoding":{
  "x":{"field":"x","type":"quantitative","axis":{"orient":"bottom","values":[0.35,0.45,0.55,0.65,0.75,0.85,0.95,1.05,1.15,1.25,1.35],"labels":false,"domain":false,"grid":false,"tickSize":4,"tickWidth":1.5,"tickColor":"#111","title":null}},
  "y":{"field":"y","type":"quantitative","axis":{"orient":"left","values":[0.4,0.6,0.8,1.2,1.4,1.6,1.8,2.2,2.4,2.6,2.8,3.2,3.4,3.6,3.8,4.2,4.4,4.6,4.8,5.2,5.4,5.6,5.8,6.2,6.4,6.6,6.8,7.2,7.4,7.6,7.8],"labels":false,"domain":false,"grid":false,"tickSize":6,"tickWidth":1.5,"tickColor":"#111","title":null}},
  "y2":{"field":"y2"}
 }},
{"data":{"values":[{"x":1.045,"y":1.44,"y2":3.37},{"x":1.2714,"y":0.58,"y2":2.09}]},
 "mark":{"type":"rule","color":"#555555","strokeWidth":2.5},
 "encoding":{"x":{"field":"x","type":"quantitative","axis":null},"y":{"field":"y","type":"quantitative","axis":null},"y2":{"field":"y2"}}},
{"data":{"values":[{"x":1.045,"y":2.87},{"x":1.2714,"y":1.67}]},
 "mark":{"type":"point","shape":"triangle-down","filled":true,"color":"#555555","opacity":1,"size":500},
 "encoding":{"x":{"field":"x","type":"quantitative","axis":null},"y":{"field":"y","type":"quantitative","axis":null}}},
{"data":{"values":[{"x":1.045,"y":1.96},{"x":1.2714,"y":1.055}]},
 "mark":{"type":"point","shape":"triangle-up","filled":true,"color":"#555555","opacity":1,"size":500},
 "encoding":{"x":{"field":"x","type":"quantitative","axis":null},"y":{"field":"y","type":"quantitative","axis":null}}},
{"data":{"values":[{"x":0.3958,"y":2.64,"x2":0.332,"y2":3.19}]},
 "mark":{"type":"rule","color":"#888888","strokeWidth":5},
 "encoding":{"x":{"field":"x","type":"quantitative","axis":null},"y":{"field":"y","type":"quantitative","axis":null},"x2":{"field":"x2"},"y2":{"field":"y2"}}},
{"data":{"values":[{"x":0.3285,"y":3.22}]},
 "mark":{"type":"point","shape":"triangle-up","filled":true,"color":"#888888","opacity":1,"size":600,"angle":-45},
 "encoding":{"x":{"field":"x","type":"quantitative","axis":null},"y":{"field":"y","type":"quantitative","axis":null}}},
{"data":{"values":[{"x":0.4283,"y":1.815,"t":"Neg. Elec."},{"x":1.099,"y":7.13,"t":"Separator"},{"x":1.2076,"y":7.08,"t":"Pos. Elec."}]},
 "mark":{"type":"text","angle":270,"fontSize":36.5,"color":"#999999","align":"center","baseline":"middle"},
 "encoding":{"x":{"field":"x","type":"quantitative","axis":null},"y":{"field":"y","type":"quantitative","axis":null},"text":{"field":"t"}}},
{"data":{"values":[{"x":1.0325,"y":4.55,"t":"Δ⁶Li due to"},{"x":1.0325,"y":4.13,"t":"isotopic"},{"x":1.0325,"y":3.72,"t":"diffusion"}]},
 "mark":{"type":"text","fontSize":32,"color":"#444444","align":"center","baseline":"middle"},
 "encoding":{"x":{"field":"x","type":"quantitative","axis":null},"y":{"field":"y","type":"quantitative","axis":null},"text":{"field":"t"}}}
]
}
